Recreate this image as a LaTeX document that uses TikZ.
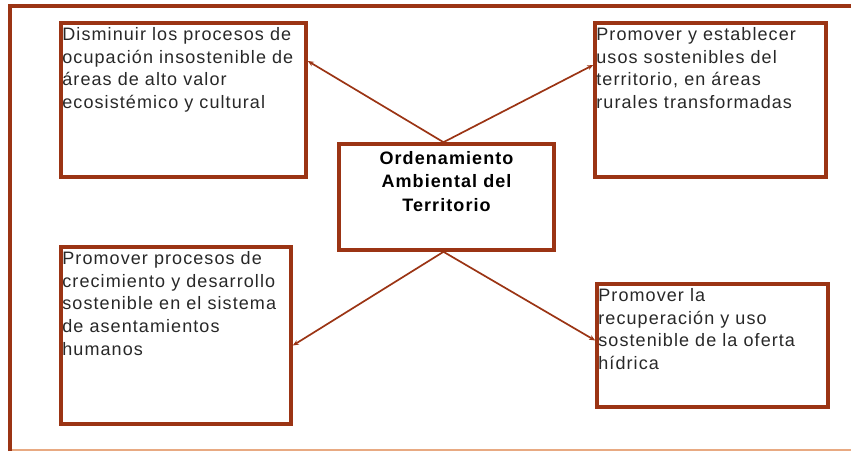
\documentclass[tikz,border=0pt]{standalone}
\usepackage{fontspec}
\setmainfont{Liberation Sans}[LetterSpace=6]
\usetikzlibrary{arrows.meta}

\definecolor{ordbrown}{RGB}{155,52,20}
\definecolor{ordline}{RGB}{232,170,130}
\definecolor{ordtext}{RGB}{40,40,40}

\begin{document}
\begin{tikzpicture}[x=1pt, y=-1pt,
    objbox/.style={draw=ordbrown, line width=3.6pt, fill=white, inner sep=0pt},
    objtext/.style={anchor=north west, align=left, text=ordtext, inner xsep=3pt, inner ysep=6pt,
      font=\fontsize{18}{22.7}\selectfont},
    ordtitle/.style={anchor=north, align=center, text=black, inner ysep=9pt,
      font=\fontsize{18}{23.5}\selectfont\bfseries},
    conn/.style={draw=ordbrown, line width=1.7pt, -{Stealth[length=6pt,width=5pt]}}]
  \useasboundingbox (0,0) rectangle (851,453);
  % frame
  \draw[ordline, line width=1.2pt] (10,450) -- (851,450);
  \draw[ordbrown, line width=3.2pt] (10,451) -- (10,6) -- (851,6);

  \node[objbox, minimum width=245pt, minimum height=154pt] (obj1) at (183.5,100) {};
  \node[objbox, minimum width=231pt, minimum height=154pt] (obj2) at (710.5,100) {};
  \node[objbox, minimum width=215pt, minimum height=106pt] (ord) at (446.5,197) {};
  \node[objbox, minimum width=230pt, minimum height=177pt] (obj3) at (176,335.5) {};
  \node[objbox, minimum width=231pt, minimum height=123pt] (obj4) at (712.5,345.5) {};

  \node[objtext] (obj1t) at (obj1.north west) {Disminuir los procesos de\\ocupación insostenible de\\áreas de alto valor\\ecosistémico y cultural};
  \node[objtext] (obj2t) at (obj2.north west) {Promover y establecer\\usos sostenibles del\\territorio, en áreas\\rurales transformadas};
  \node[ordtitle] (ordt) at (ord.north) {Ordenamiento\\Ambiental del\\Territorio};
  \node[objtext] (obj3t) at (obj3.north west) {Promover procesos de\\crecimiento y desarrollo\\sostenible en el sistema\\de asentamientos\\humanos};
  \node[objtext] (obj4t) at (obj4.north west) {Promover la\\recuperación y uso\\sostenible de la oferta\\hídrica};

  \draw[conn] ([xshift=-3pt]ord.north) -- ([yshift=39pt]obj1.east);
  \draw[conn] ([xshift=-3pt]ord.north) -- ([yshift=35pt]obj2.west);
  \draw[conn] ([xshift=-3pt]ord.south) -- ([yshift=-10pt]obj3.east);
  \draw[conn] ([xshift=-3pt]ord.south) -- ([yshift=5pt]obj4.west);
\end{tikzpicture}
\end{document}
